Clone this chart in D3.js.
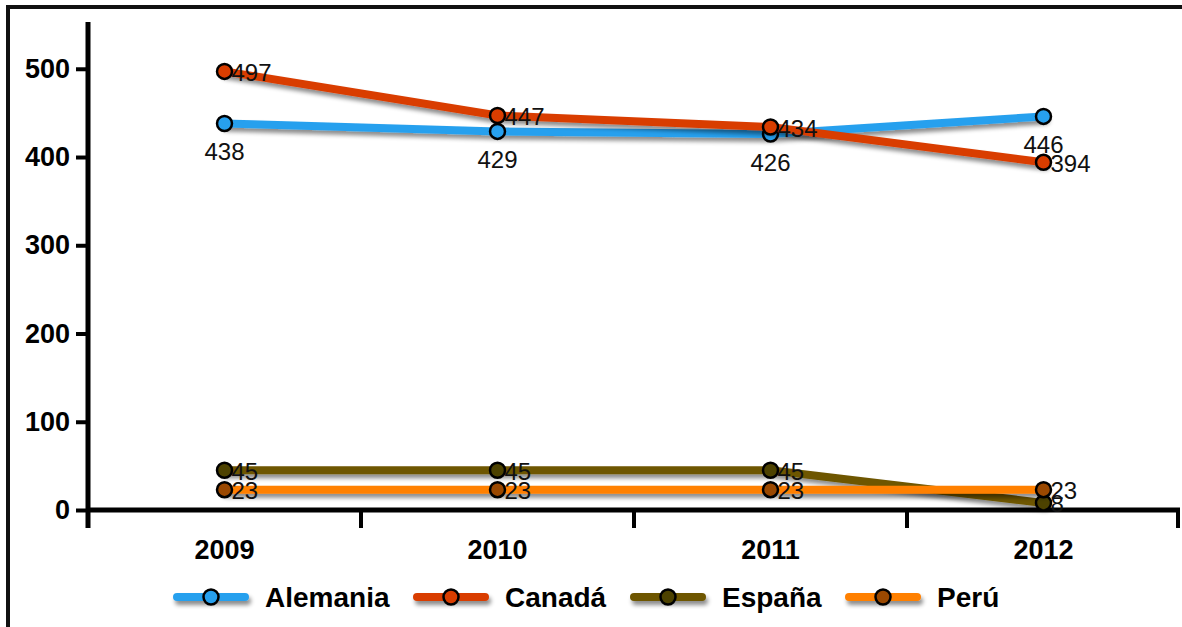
<!DOCTYPE html>
<html>
<head>
<meta charset="utf-8">
<script src="https://cdn.jsdelivr.net/npm/d3@7"></script>
<style>
  html, body { margin: 0; padding: 0; background: #fff; }
  svg { display: block; }
</style>
</head>
<body>
<svg id="chart" width="1182" height="627"></svg>
<script>
// Years on the category axis
const years = ["2009", "2010", "2011", "2012"];

// One array of values per country
const alemania = [438, 429, 426, 446];
const canada   = [497, 447, 434, 394];
const espana   = [45, 45, 45, 8];
const peru     = [23, 23, 23, 23];

// Y axis tick values
const yTicks = [0, 100, 200, 300, 400, 500];

const seriesNames = ["Alemania", "Canadá", "España", "Perú"];
const seriesValues = [alemania, canada, espana, peru];
const lineColors   = ["#27a0ee", "#d93d00", "#6e5600", "#ff8000"];
const markerFills  = ["#27a0ee", "#d93d00", "#4d4200", "#9a4800"];
const labelPlace   = ["below", "right", "right", "right"];

const svg = d3.select("#chart");
const font = "'Liberation Sans', Arial, Helvetica, sans-serif";

// Drop shadow under the lines (user-space region so flat lines keep it)
const defs = svg.append("defs");
const f = defs.append("filter").attr("id", "shadow")
  .attr("filterUnits", "userSpaceOnUse")
  .attr("x", 0).attr("y", 0).attr("width", 1182).attr("height", 627);
f.append("feDropShadow").attr("dx", 2).attr("dy", 4).attr("stdDeviation", 2.2)
  .attr("flood-color", "#000").attr("flood-opacity", 0.45);

// Outer frame (top and left edges)
svg.append("line").attr("x1", 8).attr("x2", 1182).attr("y1", 7).attr("y2", 7)
  .attr("stroke", "#111").attr("stroke-width", 4);
svg.append("line").attr("x1", 8).attr("x2", 8).attr("y1", 5).attr("y2", 627)
  .attr("stroke", "#111").attr("stroke-width", 4);

// Scales
const x = d3.scaleBand().domain(years).range([88, 1180]).padding(0);
const y = d3.scaleLinear().domain([0, 553]).range([510, 22]);
const cx = d => x(d) + x.bandwidth() / 2;

// Y axis
const yAxis = svg.append("g").attr("transform", "translate(88,0)")
  .call(d3.axisLeft(y).tickValues(yTicks).tickSize(12).tickPadding(6));
yAxis.select(".domain").remove();
yAxis.selectAll(".tick line").attr("stroke", "#000").attr("stroke-width", 4);
yAxis.selectAll(".tick text")
  .attr("font-family", font).attr("font-weight", "bold").attr("font-size", 27)
  .attr("fill", "#000");
svg.append("line").attr("x1", 88).attr("x2", 88)
  .attr("y1", y(553)).attr("y2", 528)
  .attr("stroke", "#000").attr("stroke-width", 5);

// X axis: labels centred in each band, ticks on the band edges
const xAxis = svg.append("g").attr("transform", "translate(0,510)")
  .call(d3.axisBottom(x).tickSize(0).tickPadding(30));
xAxis.select(".domain").remove();
xAxis.selectAll(".tick text")
  .attr("font-family", font).attr("font-weight", "bold").attr("font-size", 27)
  .attr("fill", "#000");
svg.append("line").attr("x1", 86).attr("x2", 1180).attr("y1", 510).attr("y2", 510)
  .attr("stroke", "#000").attr("stroke-width", 5);
const edges = years.map(d => x(d)).concat([x(years[years.length - 1]) + x.bandwidth()]);
svg.selectAll(".xedge").data(edges).enter().append("line")
  .attr("class", "xedge")
  .attr("x1", d => Math.min(d, 1178)).attr("x2", d => Math.min(d, 1178))
  .attr("y1", 510).attr("y2", 528)
  .attr("stroke", "#000").attr("stroke-width", 4);

// Series
const line = d3.line().x(d => cx(d.year)).y(d => y(d.value));

seriesValues.forEach((vals, i) => {
  const pts = vals.map((v, j) => ({ year: years[j], value: v }));
  const g = svg.append("g");
  g.append("path").datum(pts)
    .attr("d", line)
    .attr("fill", "none")
    .attr("stroke", lineColors[i])
    .attr("stroke-width", 8)
    .attr("stroke-linecap", "round")
    .attr("filter", "url(#shadow)");
  g.selectAll("circle").data(pts).enter().append("circle")
    .attr("cx", d => cx(d.year)).attr("cy", d => y(d.value))
    .attr("r", 7.5)
    .attr("fill", markerFills[i])
    .attr("stroke", "#000").attr("stroke-width", 2.5);
  const t = g.selectAll("text").data(pts).enter().append("text")
    .attr("font-family", font).attr("font-size", 24).attr("fill", "#111")
    .text(d => d.value);
  if (labelPlace[i] === "below") {
    t.attr("x", d => cx(d.year)).attr("y", d => y(d.value) + 28)
      .attr("text-anchor", "middle").attr("dominant-baseline", "central");
  } else {
    t.attr("x", d => cx(d.year) + 7).attr("y", d => y(d.value) + 1)
      .attr("text-anchor", "start").attr("dominant-baseline", "central");
  }
});

// Legend
const legendX = [177, 417, 634, 849];
const legendY = 597;
const lg = svg.append("g");
seriesNames.forEach((name, i) => {
  const x0 = legendX[i];
  lg.append("line")
    .attr("x1", x0).attr("x2", x0 + 68).attr("y1", legendY).attr("y2", legendY)
    .attr("stroke", lineColors[i]).attr("stroke-width", 8)
    .attr("stroke-linecap", "round")
    .attr("filter", "url(#shadow)");
  lg.append("circle")
    .attr("cx", x0 + 34).attr("cy", legendY).attr("r", 7.5)
    .attr("fill", markerFills[i]).attr("stroke", "#000").attr("stroke-width", 2.5);
  lg.append("text")
    .attr("x", x0 + 88).attr("y", legendY + 10)
    .attr("font-family", font).attr("font-weight", "bold").attr("font-size", 28)
    .attr("fill", "#000")
    .text(name);
});
</script>
</body>
</html>
